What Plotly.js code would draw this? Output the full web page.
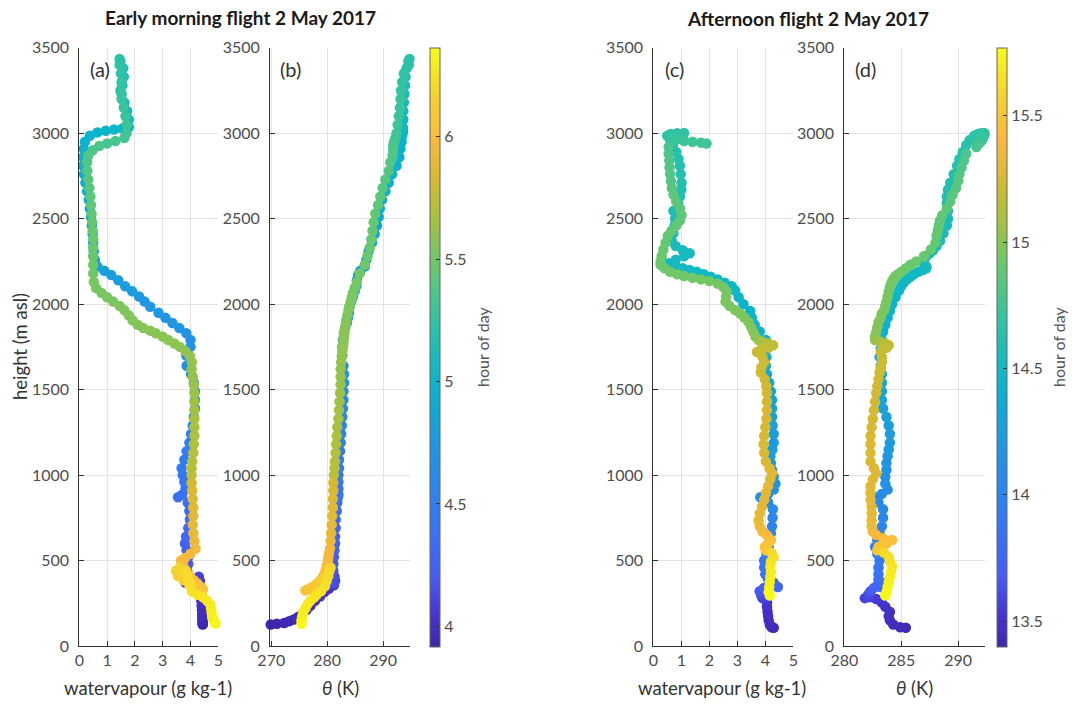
<!DOCTYPE html>
<html>
<head>
<meta charset="utf-8">
<script src="https://cdn.plot.ly/plotly-3.0.1.min.js"></script>
<style>
  html, body { margin: 0; padding: 0; background: #ffffff; }
  #chart { width: 1072px; height: 704px; }
</style>
</head>
<body>
<div id="chart"></div>
<script>
// ---- Early morning flight, 2 May 2017 (time ordered: ascent then descent) ----
const amHeight = [126,130,135,145,155,170,185,210,235,265,290,315,335,355,380,405,390,370,400,440,480,520,560,600,640,690,740,790,840,870,885,920,960,1000,1040,1090,1140,1190,1240,1290,1340,1390,1440,1490,1540,1590,1640,1700,1750,1790,1830,1860,1890,1920,1950,1985,2015,2045,2075,2105,2140,2170,2195,2220,2260,2310,2360,2410,2460,2510,2560,2610,2660,2710,2760,2810,2860,2910,2950,2985,3005,3015,3022,3028,3035,3080,3130,3180,3230,3280,3330,3380,3420,3435,
  3400,3350,3300,3250,3200,3150,3100,3050,3000,2972,2955,2940,2925,2900,2870,2830,2780,2730,2680,2630,2580,2530,2480,2430,2380,2330,2280,2230,2180,2130,2095,2065,2040,2015,1990,1965,1935,1905,1880,1860,1845,1830,1810,1790,1770,1750,1725,1695,1660,1620,1575,1530,1480,1430,1380,1330,1280,1230,1180,1130,1080,1040,1000,955,910,860,810,760,710,660,615,570,540,515,500,470,440,410,385,365,345,332,325,340,360,385,410,440,460,440,410,380,350,320,300,285,265,245,220,195,170,150,130];
const amWatervapour = [4.44,4.44,4.44,4.43,4.43,4.42,4.42,4.41,4.40,4.39,4.38,4.37,4.36,4.35,4.34,4.30,4.05,3.82,3.84,3.88,3.92,3.92,3.86,3.80,3.84,3.92,3.98,3.96,3.90,3.55,3.70,3.82,3.78,3.72,3.68,3.78,3.86,3.96,4.02,4.08,4.12,4.16,4.16,4.16,4.12,4.02,3.86,3.85,4.00,4.00,3.85,3.60,3.35,3.10,2.85,2.55,2.35,2.15,1.90,1.65,1.40,1.15,0.90,0.65,0.56,0.52,0.50,0.48,0.45,0.42,0.38,0.34,0.28,0.22,0.17,0.14,0.14,0.16,0.20,0.38,0.65,0.95,1.25,1.55,1.78,1.78,1.72,1.62,1.52,1.55,1.60,1.58,1.48,1.45,
  1.45,1.50,1.52,1.48,1.52,1.60,1.66,1.70,1.70,1.62,1.30,1.00,0.72,0.48,0.32,0.28,0.29,0.32,0.36,0.40,0.42,0.44,0.46,0.48,0.50,0.50,0.50,0.50,0.50,0.52,0.60,0.80,1.00,1.22,1.45,1.62,1.78,1.92,2.10,2.30,2.55,2.75,3.00,3.20,3.42,3.62,3.82,3.98,4.05,4.04,4.08,4.12,4.14,4.14,4.14,4.14,4.14,4.14,4.12,4.10,4.06,4.04,4.04,4.04,4.06,4.08,4.10,4.10,4.08,4.10,4.14,4.18,4.00,3.80,3.66,3.74,3.85,3.98,4.12,4.25,4.38,4.45,4.40,4.20,3.95,3.75,3.55,3.48,3.62,3.80,3.90,3.95,4.00,4.05,4.25,4.45,4.60,4.70,4.74,4.76,4.78,4.84,4.90];
const amTheta = [269.9,271.0,272.3,273.2,274.0,274.8,275.5,276.3,277.0,277.8,278.7,279.5,280.3,281.2,281.4,281.3,281.2,281.1,281.1,281.1,281.1,281.2,281.3,281.4,281.4,281.5,281.5,281.7,281.8,281.9,282.0,282.0,282.0,282.0,282.1,282.1,282.3,282.4,282.5,282.6,282.7,282.8,282.9,282.9,283.0,283.0,282.9,282.7,282.7,282.8,283.0,283.2,283.5,283.7,283.9,284.0,284.3,284.6,284.9,285.2,285.3,285.5,285.9,286.7,287.0,287.4,288.0,288.5,288.9,289.2,289.4,289.8,290.4,291.0,291.6,292.4,292.9,293.1,293.3,293.4,293.5,293.5,293.5,293.5,293.5,293.6,293.6,293.7,293.8,293.9,294.0,294.2,294.5,294.7,
  294.6,293.7,293.4,293.2,293.1,293.0,292.8,292.6,292.4,292.2,292.0,291.9,291.8,291.8,291.7,291.3,291.0,290.4,289.9,289.5,289.1,288.6,288.3,288.1,287.9,287.6,287.2,286.7,285.8,285.3,284.9,284.6,284.4,284.2,284.0,283.8,283.6,283.4,283.3,283.2,283.1,283.0,283.0,282.9,282.9,282.8,282.7,282.6,282.5,282.4,282.4,282.4,282.3,282.2,282.1,282.0,281.8,281.7,281.6,281.5,281.4,281.3,281.2,281.1,281.1,281.0,281.0,280.9,280.8,280.7,280.6,280.5,280.3,280.2,280.1,279.9,279.7,279.3,278.8,278.2,277.4,276.6,276.1,277.0,278.0,279.0,279.8,280.3,280.6,280.4,280.2,279.9,279.6,278.9,278.1,277.7,277.0,276.5,276.1,275.7,275.5,275.4,275.4];
const amHour = [3.92,3.93,3.94,3.95,3.96,3.97,3.98,3.99,4.00,4.01,4.02,4.03,4.04,4.06,4.08,4.10,4.12,4.14,4.15,4.17,4.19,4.21,4.23,4.25,4.27,4.29,4.31,4.33,4.35,4.37,4.38,4.39,4.41,4.43,4.45,4.47,4.49,4.51,4.53,4.55,4.57,4.58,4.60,4.62,4.63,4.65,4.66,4.67,4.68,4.69,4.70,4.71,4.72,4.73,4.74,4.75,4.76,4.77,4.78,4.79,4.80,4.81,4.82,4.83,4.84,4.85,4.86,4.87,4.88,4.89,4.90,4.91,4.92,4.93,4.94,4.95,4.96,4.97,4.98,4.99,5.00,5.01,5.02,5.03,5.04,5.05,5.07,5.09,5.11,5.13,5.15,5.17,5.19,5.21,
  5.23,5.24,5.25,5.26,5.27,5.28,5.29,5.30,5.31,5.32,5.33,5.34,5.35,5.36,5.37,5.38,5.39,5.40,5.41,5.42,5.43,5.44,5.45,5.46,5.47,5.47,5.48,5.49,5.50,5.51,5.52,5.52,5.53,5.53,5.54,5.54,5.55,5.55,5.56,5.56,5.57,5.57,5.58,5.58,5.59,5.59,5.60,5.60,5.61,5.61,5.62,5.62,5.63,5.64,5.65,5.66,5.67,5.68,5.69,5.70,5.71,5.72,5.73,5.82,5.84,5.86,5.87,5.88,5.90,5.91,5.92,5.94,5.96,5.97,5.98,5.99,6.00,6.01,6.02,6.03,6.04,6.05,6.06,6.08,6.10,6.12,6.14,6.16,6.18,6.20,6.21,6.22,6.23,6.24,6.25,6.26,6.27,6.28,6.29,6.30,6.31,6.32,6.34];

// ---- Afternoon flight, 2 May 2017 ----
const pmHeight = [107,110,126,150,175,200,230,255,275,285,280,300,320,340,355,345,370,390,420,460,500,540,580,620,660,700,750,800,840,870,890,915,950,990,1030,1070,1110,1150,1190,1240,1290,1340,1390,1440,1490,1540,1590,1640,1690,1740,1790,1840,1880,1920,1960,2000,2040,2080,2105,2125,2145,2160,2175,2190,2200,2210,2220,2240,2260,2280,2298,2315,2340,2370,2415,2460,2500,2545,2590,2630,2670,2710,2760,2810,2850,2890,2930,2960,2985,2995,3000,3002,2990,2975,2960,2955,2950,2945,2940,
  2920,2880,2840,2800,2760,2720,2680,2640,2600,2560,2520,2490,2460,2430,2400,2360,2320,2280,2250,2230,2210,2190,2175,2165,2155,2145,2135,2120,2100,2075,2045,2015,1990,1965,1945,1920,1895,1865,1835,1810,1790,1780,1770,1760,1745,1735,1720,1690,1660,1630,1600,1560,1520,1480,1430,1380,1330,1280,1230,1180,1130,1080,1040,1010,975,935,895,855,815,775,735,700,670,650,630,620,600,580,560,545,520,495,465,435,405,375,345,315,295];
const pmWatervapour = [4.30,4.22,4.16,4.12,4.10,4.08,4.06,4.06,4.04,3.95,3.90,3.85,3.80,3.95,4.20,4.45,4.30,4.10,4.00,3.96,3.96,4.04,4.12,4.16,4.20,4.24,4.26,4.27,4.10,3.82,4.10,4.30,4.36,4.30,4.24,4.20,4.18,4.25,4.30,4.30,4.26,4.24,4.24,4.24,4.20,4.14,4.06,4.02,4.04,4.06,4.02,3.80,3.62,3.52,3.46,3.22,3.05,2.92,2.80,2.55,2.30,2.05,1.80,1.55,1.30,1.05,0.80,0.55,0.80,1.10,1.30,1.05,0.80,0.66,0.72,0.76,0.78,0.72,0.88,0.95,1.00,1.01,0.98,0.95,0.90,0.82,0.70,0.60,0.50,0.62,0.85,1.10,0.90,0.65,0.80,1.10,1.40,1.70,1.90,
  0.55,0.55,0.57,0.58,0.60,0.63,0.66,0.72,0.82,0.95,1.01,0.95,0.82,0.65,0.52,0.44,0.36,0.30,0.26,0.26,0.40,0.60,0.85,1.10,1.40,1.70,2.00,2.30,2.50,2.62,2.60,2.58,2.72,2.92,3.10,3.26,3.40,3.50,3.58,3.65,3.76,3.90,4.10,4.28,4.10,3.85,3.70,3.90,3.96,3.86,3.84,3.98,4.04,4.06,4.06,4.06,4.04,4.00,3.96,3.94,3.96,4.02,4.15,4.24,4.18,4.10,4.02,3.96,3.88,3.80,3.76,3.80,3.90,4.05,4.12,4.20,4.10,3.98,4.02,4.22,4.30,4.20,4.18,4.20,4.18,4.16,4.14,4.12,4.16];
const pmTheta = [285.4,284.9,284.3,284.0,283.9,284.0,283.6,283.3,282.8,282.2,281.8,282.1,282.3,282.6,282.9,283.2,283.3,283.0,283.0,283.0,283.1,282.9,282.7,282.9,283.1,283.3,283.4,283.4,283.0,282.8,283.3,283.8,283.6,283.6,283.7,283.7,283.8,283.9,284.0,284.0,283.9,283.7,283.4,283.3,283.3,283.3,283.3,283.2,283.1,283.2,283.3,283.4,283.6,283.8,284.0,284.2,284.5,284.8,285.0,285.2,285.5,285.8,286.1,286.5,286.9,287.2,287.2,287.0,286.9,287.2,287.5,287.8,288.1,288.4,288.7,289.0,289.1,289.1,289.0,289.0,289.1,289.3,289.6,289.9,290.1,290.4,290.7,291.0,291.4,291.7,292.0,292.3,292.3,292.2,292.1,292.0,291.9,291.9,291.8,
  291.6,290.7,290.5,290.3,290.1,290.0,289.8,289.5,289.3,289.0,288.6,288.4,288.3,288.2,288.1,288.0,287.6,287.0,286.3,285.8,285.4,285.0,284.7,284.5,284.4,284.3,284.2,284.1,284.0,283.9,283.8,283.7,283.6,283.5,283.3,283.2,283.0,282.9,282.8,282.7,282.7,283.2,283.6,283.9,283.7,283.3,283.2,283.3,283.3,283.2,283.1,283.0,282.9,282.8,282.7,282.6,282.5,282.4,282.3,282.3,282.3,282.3,282.6,282.8,282.5,282.3,282.3,282.3,282.4,282.4,282.4,282.4,282.5,282.8,283.4,284.2,283.7,283.0,282.9,283.5,283.9,284.0,284.2,284.1,284.0,283.9,283.8,283.7,283.6];
const pmHour = [13.44,13.45,13.46,13.47,13.48,13.49,13.50,13.52,13.54,13.56,13.58,13.62,13.66,13.70,13.73,13.76,13.79,13.82,13.85,13.88,13.91,13.94,13.96,13.98,14.00,14.02,14.04,14.06,14.08,14.10,14.11,14.12,14.14,14.16,14.18,14.19,14.20,14.22,14.23,14.25,14.26,14.28,14.29,14.31,14.32,14.34,14.35,14.36,14.38,14.39,14.40,14.41,14.42,14.43,14.44,14.45,14.46,14.47,14.48,14.48,14.49,14.49,14.50,14.50,14.51,14.51,14.52,14.52,14.53,14.53,14.54,14.54,14.55,14.55,14.56,14.57,14.57,14.58,14.59,14.59,14.60,14.61,14.61,14.62,14.63,14.63,14.64,14.65,14.66,14.67,14.68,14.69,14.70,14.71,14.72,14.73,14.74,14.75,14.76,
  14.78,14.79,14.80,14.81,14.82,14.83,14.84,14.85,14.86,14.86,14.87,14.87,14.88,14.88,14.89,14.89,14.90,14.90,14.91,14.91,14.92,14.92,14.93,14.93,14.93,14.94,14.94,14.95,14.95,14.95,14.96,14.96,14.96,14.97,14.97,14.97,14.98,14.98,14.99,14.99,15.02,15.10,15.14,15.16,15.18,15.19,15.20,15.21,15.21,15.22,15.22,15.23,15.23,15.24,15.24,15.25,15.25,15.26,15.26,15.27,15.27,15.28,15.28,15.29,15.29,15.30,15.30,15.31,15.31,15.32,15.33,15.34,15.36,15.40,15.43,15.45,15.47,15.49,15.52,15.60,15.63,15.65,15.67,15.69,15.70,15.72,15.73,15.74,15.75];

// ---- Axis ticks and labels ----
const heightTicks = [0, 500, 1000, 1500, 2000, 2500, 3000, 3500];
const wvTicks = [0, 1, 2, 3, 4, 5];
const thetaTicksAm = [270, 280, 290];
const thetaTicksPm = [280, 285, 290];
const hourTicksAm = [4, 4.5, 5, 5.5, 6];
const hourTicksPm = [13.5, 14, 14.5, 15, 15.5];
const panelTitles = ['Early morning flight 2 May 2017', 'Afternoon flight 2 May 2017'];
const panelLetters = ['(a)', '(b)', '(c)', '(d)'];
const wvLabel = 'watervapour (g kg-1)';
const thetaLabel = '<i>θ</i> (K)';
const heightLabel = 'height (m asl)';
const hourLabel = 'hour of day';

// MATLAB-like parula colour map
const parula = [
  [0.00, '#3e26a8'], [0.05, '#4533cf'], [0.12, '#465ef5'], [0.24, '#2f80f2'],
  [0.34, '#1f98e2'], [0.44, '#09b4cd'], [0.54, '#2ec3a6'], [0.64, '#6bc86b'],
  [0.72, '#acc13c'], [0.78, '#d6b930'], [0.85, '#fcba3d'], [0.92, '#f5d22e'],
  [1.00, '#f9fb15']
];

const W = 1072, H = 704;
const px = v => v / W;
const py = v => 1 - v / H;

const FONT = 'Lato, "Open Sans", sans-serif';
const tickFont = { family: FONT, size: 16, color: '#4d4d4d' };
const yDom = [py(646), py(47.8)];

function profile(x, y, hour, xa, ya, cmin, cmax, bar) {
  const t = {
    type: 'scatter', mode: 'markers', x: x, y: y,
    xaxis: xa, yaxis: ya, cliponaxis: false, hoverinfo: 'skip',
    marker: {
      size: 10.5, color: hour, colorscale: parula, cmin: cmin, cmax: cmax,
      line: { width: 0 }, showscale: !!bar
    }
  };
  if (bar) {
    t.marker.colorbar = {
      x: px(bar.x), xanchor: 'left', xpad: 0,
      y: py(347), yanchor: 'middle', ypad: 0,
      len: 599, lenmode: 'pixels', thickness: 10, thicknessmode: 'pixels',
      outlinewidth: 1, outlinecolor: '#666',
      tickvals: bar.ticks, ticks: 'inside', ticklen: 4, tickcolor: '#333',
      tickfont: tickFont
    };
  }
  return t;
}

const data = [
  profile(amWatervapour, amHeight, amHour, 'x', 'y', 3.918, 6.364, null),
  profile(amTheta, amHeight, amHour, 'x2', 'y2', 3.918, 6.364, { x: 430, ticks: hourTicksAm }),
  profile(pmWatervapour, pmHeight, pmHour, 'x3', 'y3', 13.40, 15.77, null),
  profile(pmTheta, pmHeight, pmHour, 'x4', 'y4', 13.40, 15.77, { x: 996.7, ticks: hourTicksPm })
];

function xAxis(domain, range, ticks, anchor) {
  return {
    domain: domain, range: range, tickvals: ticks, anchor: anchor,
    showline: true, linecolor: '#333', linewidth: 1, mirror: false,
    ticks: 'inside', ticklen: 5, tickcolor: '#333',
    showgrid: true, gridcolor: '#e3e3e3', gridwidth: 1, zeroline: false,
    tickfont: tickFont, fixedrange: true
  };
}
function yAxis(anchor) {
  return {
    domain: yDom, range: [0, 3500], tickvals: heightTicks, anchor: anchor,
    showline: true, linecolor: '#333', linewidth: 1, mirror: false,
    ticks: 'inside', ticklen: 5, tickcolor: '#333', ticklabelstandoff: 6,
    showgrid: true, gridcolor: '#e3e3e3', gridwidth: 1, zeroline: false,
    tickfont: tickFont, fixedrange: true
  };
}

const ann = (text, x, y, size, color, extra) => Object.assign({
  text: text, x: px(x), y: py(y), xref: 'paper', yref: 'paper',
  showarrow: false, xanchor: 'center', yanchor: 'middle',
  font: { family: FONT, size: size, color: color }
}, extra || {});

const titleFont = { family: FONT, size: 19, color: '#1a1a1a', weight: 'bold' };

const layout = {
  width: W, height: H, margin: { l: 0, r: 0, t: 0, b: 0 },
  paper_bgcolor: '#ffffff', plot_bgcolor: '#ffffff', showlegend: false,
  xaxis: xAxis([px(79.3), px(218.3)], [0, 5], wvTicks, 'y'),
  yaxis: yAxis('x'),
  xaxis2: xAxis([px(270), px(410)], [269.77, 294.8], thetaTicksAm, 'y2'),
  yaxis2: yAxis('x2'),
  xaxis3: xAxis([px(653.3), px(793.3)], [0, 5], wvTicks, 'y3'),
  yaxis3: yAxis('x3'),
  xaxis4: xAxis([px(844.3), px(985)], [280, 292.35], thetaTicksPm, 'y4'),
  yaxis4: yAxis('x4'),
  annotations: [
    ann(panelTitles[0], 240, 17, 19, '#1a1a1a', { font: titleFont }),
    ann(panelTitles[1], 808, 19, 19, '#1a1a1a', { font: titleFont }),
    ann(panelLetters[0], 100, 69, 20, '#333'),
    ann(panelLetters[1], 290, 69, 20, '#333'),
    ann(panelLetters[2], 674, 69, 20, '#333'),
    ann(panelLetters[3], 865, 69, 20, '#333'),
    ann(wvLabel, 148, 688, 18.5, '#333'),
    ann(thetaLabel, 340, 688, 18.5, '#333'),
    ann(wvLabel, 722, 688, 18.5, '#333'),
    ann(thetaLabel, 914, 688, 18.5, '#333'),
    ann(heightLabel, 20, 347, 18.5, '#333', { textangle: -90 }),
    ann(hourLabel, 482, 347, 16, '#555', { textangle: -90 }),
    ann(hourLabel, 1058, 347, 16, '#555', { textangle: -90 })
  ]
};

Plotly.newPlot('chart', data, layout, { staticPlot: true, displayModeBar: false });
</script>
</body>
</html>
